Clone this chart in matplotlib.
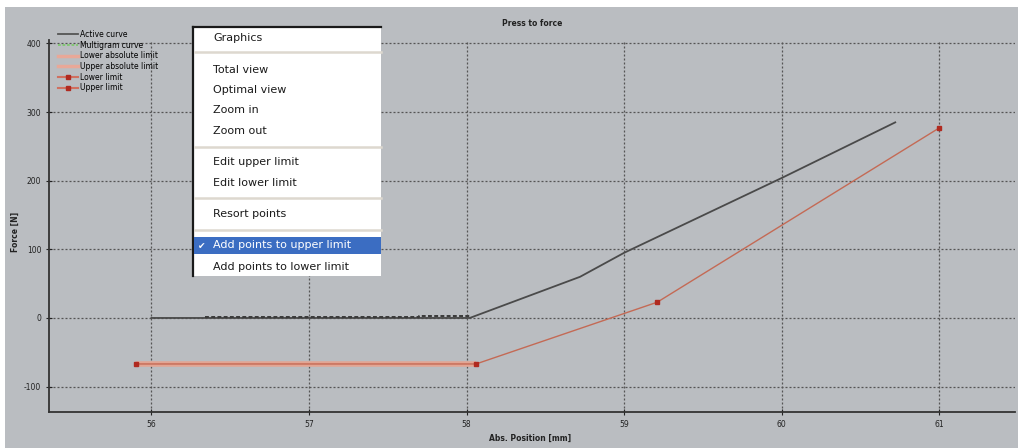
import matplotlib
matplotlib.use("Agg")
import matplotlib.pyplot as plt
from matplotlib.lines import Line2D
from matplotlib.patches import Rectangle

plt.rcParams["axes.unicode_minus"] = False

# series
active_x = [56.0, 58.02, 58.72, 59.0, 60.0, 60.72]
active_y = [0, 0, 60, 95, 204, 285]

trace_x = [56.34, 57.70, 57.70, 58.02]
trace_y = [1, 1, 3, 3]

abs_limit_x = [55.905, 58.06]
abs_limit_y = [-67, -67]

upper_x = [55.905, 58.06, 59.21, 61.0]
upper_y = [-67, -67, 23, 277]

x_ticks = [56, 57, 58, 59, 60, 61]
y_ticks = [-100, 0, 100, 200, 300, 400]

menu_items = ["Graphics", None, "Total view", "Optimal view", "Zoom in", "Zoom out", None,
              "Edit upper limit", "Edit lower limit", None, "Resort points", None,
              "Add points to upper limit", "Add points to lower limit"]
menu_y = [38, 52, 70, 90, 110, 131, 147, 162, 183, 198, 214, 230, 245, 267]

W, H = 1018, 448
BG = "#babdc1"


def px(x, y):
    return x / W, 1 - y / H


def build():
    fig = plt.figure(figsize=(W / 100, H / 100), dpi=100, facecolor=BG)
    fig.add_artist(Rectangle((0, 1 - 7 / H), 1, 7 / H, transform=fig.transFigure,
                             facecolor="white", edgecolor="none"))
    fig.add_artist(Rectangle((0, 0), 5 / W, 1, transform=fig.transFigure,
                             facecolor="white", edgecolor="none"))

    ax = fig.add_axes([49 / W, 36 / H, (1015 - 49) / W, (412 - 40) / H])
    ax.set_facecolor(BG)

    ax.plot(abs_limit_x, abs_limit_y, color="#e3a593", lw=4, solid_capstyle="butt")
    ax.plot(active_x, active_y, color="#4a4a4a", lw=1.3)
    ax.plot(trace_x, trace_y, color="#3a3a3a", lw=1.4, ls=(0, (2, 1.2)))
    ax.plot(upper_x, upper_y, color="#c46a55", lw=1.0, marker="s", ms=2.5,
            mfc="#b02a20", mec="#b02a20")

    ax.set_xlim(55.35, 61.48)
    ax.set_ylim(-137, 405)
    ax.set_xticks(x_ticks)
    ax.set_yticks(y_ticks)
    ax.tick_params(labelsize=5.5, colors="#222222", length=4, direction="inout", width=0.8)
    ax.grid(True, color="#555555", ls=(0, (1.6, 1.6)), lw=0.9)
    for s in ["top", "right"]:
        ax.spines[s].set_visible(False)
    for s in ["left", "bottom"]:
        ax.spines[s].set_color("#333333")
        ax.spines[s].set_linewidth(1.3)

    fig.text(*px(532, 24), "Press to force", fontsize=5.5, fontweight="bold",
             ha="center", va="center", color="#222222")
    fig.text(*px(530, 438), "Abs. Position [mm]", fontsize=5.5, fontweight="bold",
             ha="center", va="center", color="#222222")
    fig.text(*px(15, 232), "Force [N]", fontsize=5.5, fontweight="bold", rotation=90,
             ha="center", va="center", color="#222222")

    handles = [
        Line2D([], [], color="#555555", lw=1.3),
        Line2D([], [], color="#7ec86e", lw=1.3, ls=(0, (1.5, 1))),
        Line2D([], [], color="#e8a898", lw=2.5),
        Line2D([], [], color="#e8a898", lw=2.5),
        Line2D([], [], color="#d07060", lw=1.5, marker="s", ms=3, mfc="#b02a20", mec="#b02a20"),
        Line2D([], [], color="#d07060", lw=1.5, marker="s", ms=3, mfc="#b02a20", mec="#b02a20"),
    ]
    labels = ["Active curve", "Multigram curve", "Lower absolute limit",
              "Upper absolute limit", "Lower limit", "Upper limit"]
    fig.legend(handles, labels, loc="upper left", bbox_to_anchor=px(58, 30),
               frameon=False, fontsize=5.5, handlelength=2.6, handletextpad=0.3,
               labelspacing=0.22, borderpad=0, borderaxespad=0)

    # context menu overlay
    x0, x1, y0, y1 = 193, 381, 27, 276
    fig.add_artist(Rectangle(px(x0, y1), (x1 - x0) / W, (y1 - y0) / H,
                             transform=fig.transFigure, facecolor="white",
                             edgecolor="none", zorder=5))
    fig.add_artist(Line2D([x0 / W, x0 / W], [1 - y1 / H, 1 - y0 / H],
                          transform=fig.transFigure, color="#1a1a1a", lw=1.6, zorder=6))
    fig.add_artist(Line2D([x0 / W, x1 / W], [1 - y0 / H, 1 - y0 / H],
                          transform=fig.transFigure, color="#1a1a1a", lw=1.6, zorder=6))
    for item, y in zip(menu_items, menu_y):
        if item is None:
            fig.add_artist(Line2D([(x0 + 2) / W, x1 / W], [1 - y / H, 1 - y / H],
                                  transform=fig.transFigure, color="#ddd8cf", lw=1.8, zorder=6))
            continue
        col = "#1a1a1a"
        if item == "Add points to upper limit":
            fig.add_artist(Rectangle(px(x0 + 1, 254), (x1 - x0 - 1) / W, 17 / H,
                                     transform=fig.transFigure, facecolor="#3b6dc2",
                                     edgecolor="none", zorder=6))
            col = "white"
            fig.text(*px(202, y + 1), "\u2714", fontsize=6.5, color="white",
                     ha="center", va="center", zorder=7)
        fig.text(*px(213, y), item, fontsize=8, color=col, ha="left",
                 va="center", zorder=7)
    return fig


def main():
    fig = build()
    fig.savefig("out.png", dpi=100, facecolor=BG)


if __name__ == "__main__":
    main()
